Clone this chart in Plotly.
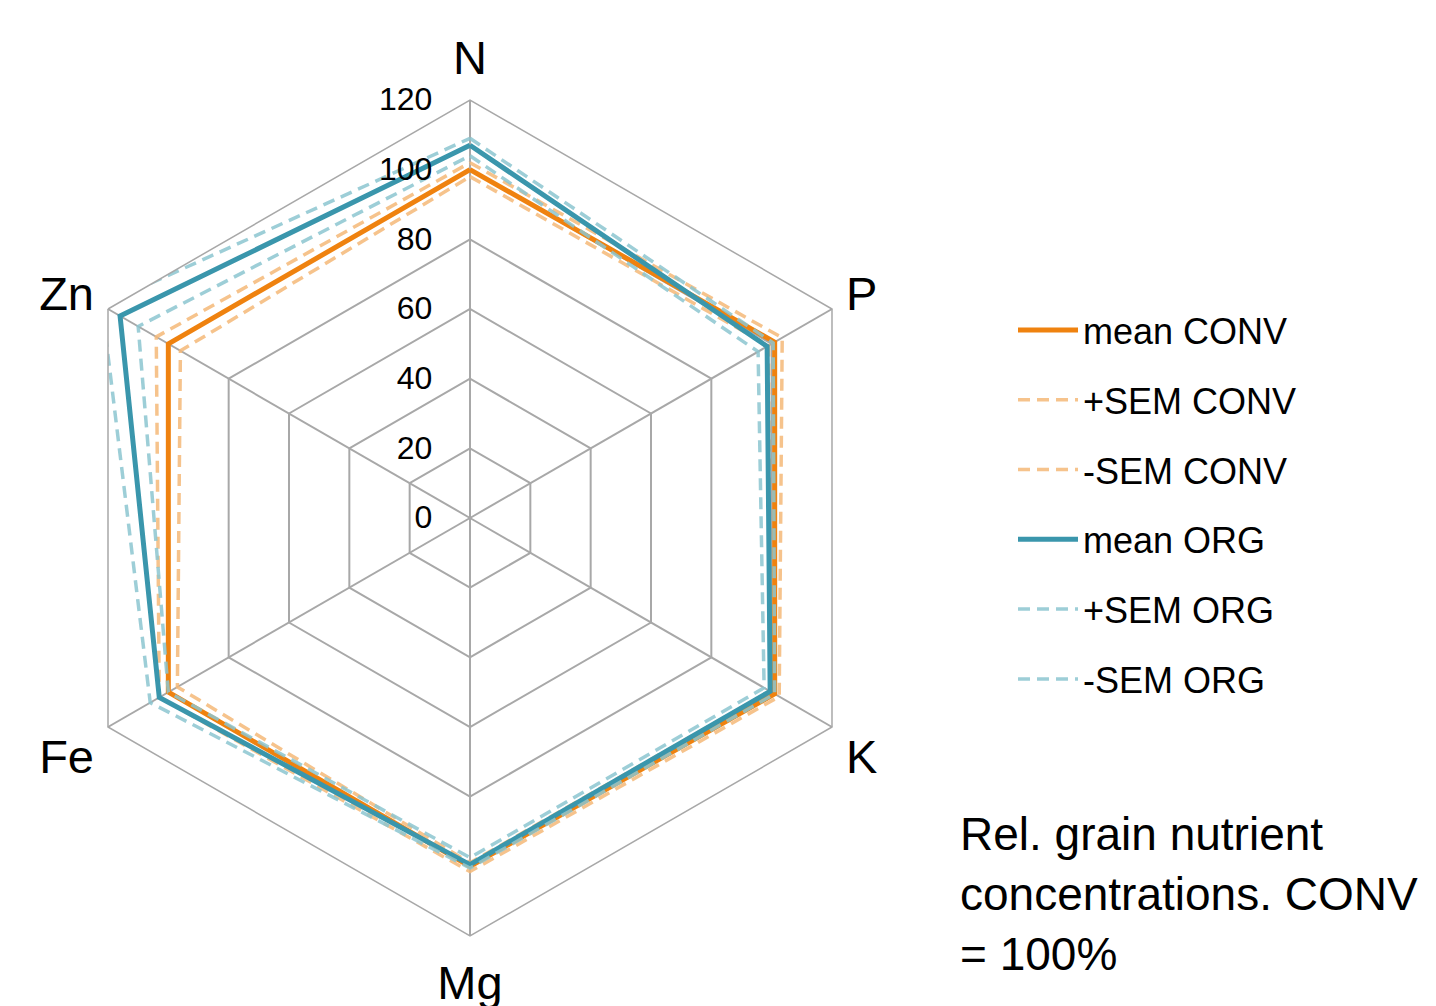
import plotly.graph_objects as go

categories = ["N", "P", "K", "Mg", "Fe", "Zn"]
mean_conv = [100, 101, 101, 100, 100, 100]
plus_sem_conv = [102, 103.5, 102.5, 101.5, 103, 104]
minus_sem_conv = [98, 99, 99.5, 99, 97, 96]
mean_org = [107, 98.5, 99.5, 99.5, 103, 116]
plus_sem_org = [109, 100.5, 101, 100.5, 106, 122]
minus_sem_org = [104, 95.5, 97.5, 97.5, 100, 110]

radial_ticks = [0, 20, 40, 60, 80, 100, 120]

ORANGE = "#ef820f"
ORANGE_L = "rgba(244,184,120,0.85)"
TEAL = "#3a96ac"
TEAL_L = "rgba(140,198,208,0.85)"

series = [
    ("mean CONV", mean_conv, ORANGE, 5, "solid"),
    ("+SEM CONV", plus_sem_conv, ORANGE_L, 3.5, "12px,7px"),
    ("-SEM CONV", minus_sem_conv, ORANGE_L, 3.5, "12px,7px"),
    ("mean ORG", mean_org, TEAL, 5, "solid"),
    ("+SEM ORG", plus_sem_org, TEAL_L, 3.5, "12px,7px"),
    ("-SEM ORG", minus_sem_org, TEAL_L, 3.5, "12px,7px"),
]

fig = go.Figure()
for name, vals, color, w, dash in series:
    fig.add_trace(go.Scatterpolar(
        r=vals + [vals[0]],
        theta=categories + [categories[0]],
        mode="lines",
        name=name,
        legendgroup=name,
        cliponaxis=False,
        line=dict(color=color, width=w, dash=dash),
    ))

W, H = 1436, 1006
GRID = "#a8a8a8"
fig.update_layout(
    width=W, height=H,
    margin=dict(l=0, r=0, t=0, b=0),
    paper_bgcolor="white",
    plot_bgcolor="white",
    font=dict(family="Liberation Sans, Arial, sans-serif", color="black"),
    polar=dict(
        domain=dict(x=[44 / W, 880 / W], y=[1 - 928 / H, 1 - 92 / H]),
        gridshape="linear",
        bgcolor="white",
        angularaxis=dict(
            rotation=90, direction="clockwise",
            tickfont=dict(size=47),
            gridcolor=GRID, gridwidth=1.5,
            linecolor=GRID, linewidth=1.5,
            ticks="outside", ticklen=6, tickcolor="rgba(0,0,0,0)",
            showline=True,
        ),
        radialaxis=dict(
            range=[0, 120], tickvals=radial_ticks,
            angle=90, side="counterclockwise", tickangle=90,
            tickfont=dict(size=32),
            gridcolor=GRID, gridwidth=1.5,
            showline=False,
            ticks="outside", ticklen=26, tickcolor="rgba(0,0,0,0)",
        ),
    ),
    legend=dict(
        x=1005 / W, y=1 - 292 / H, xanchor="left", yanchor="top",
        font=dict(size=36), itemwidth=60, tracegroupgap=20,
        bgcolor="rgba(0,0,0,0)",
    ),
    annotations=[dict(
        text="Rel. grain nutrient<br>concentrations. CONV<br>= 100%",
        x=950 / W, y=1 - 798 / H, xref="paper", yref="paper",
        xanchor="left", yanchor="top", align="left", showarrow=False,
        font=dict(size=46),
    )],
)

fig.write_html("out.html")
